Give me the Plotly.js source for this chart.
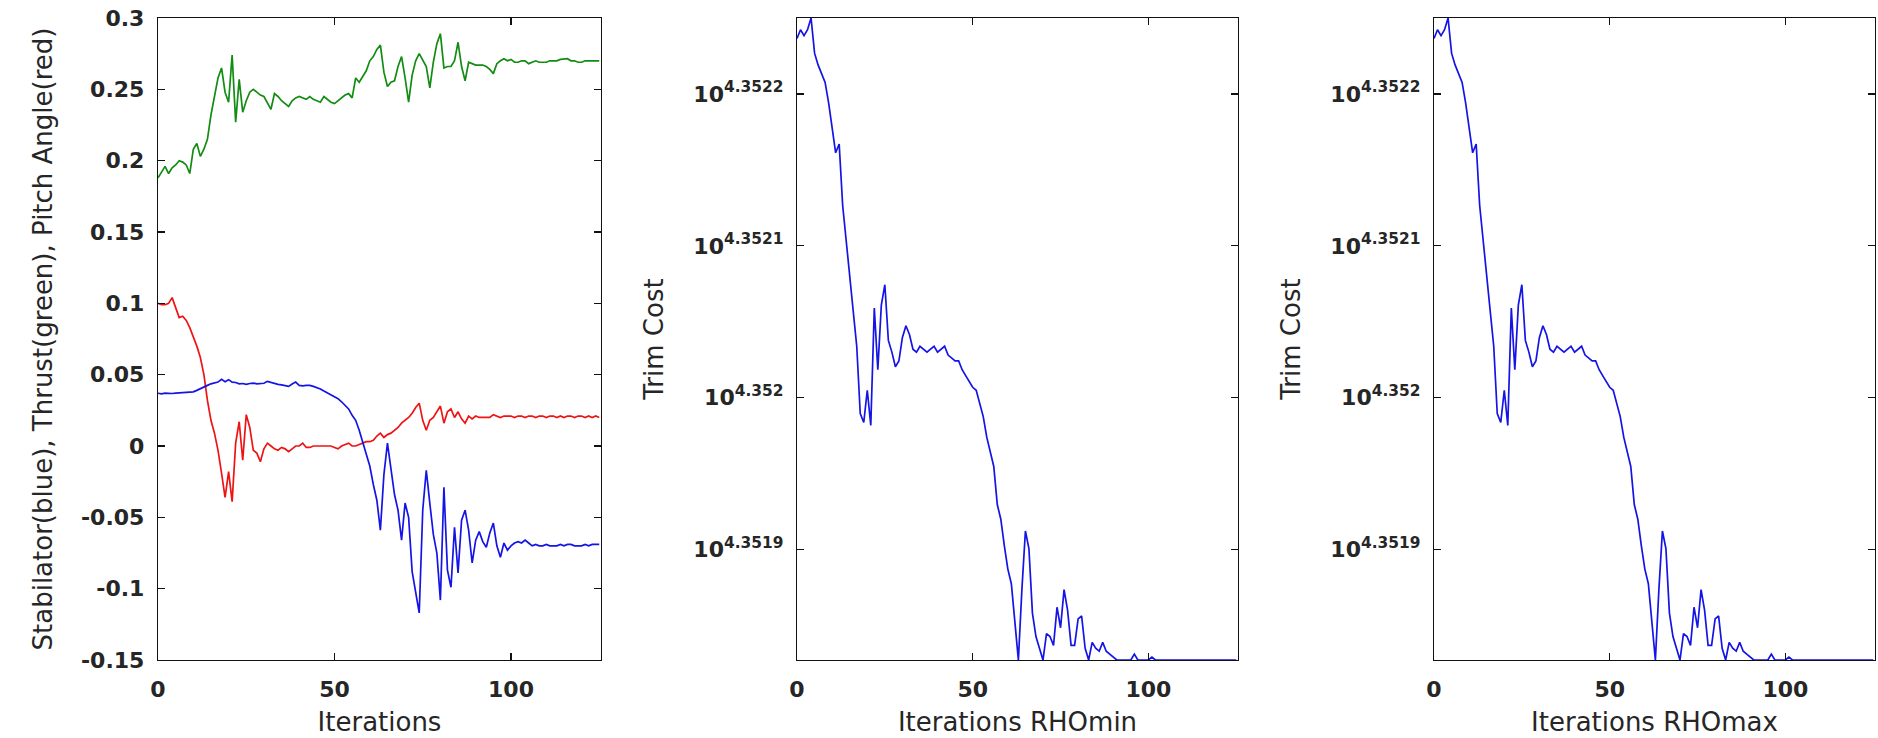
<!DOCTYPE html>
<html>
<head>
<meta charset="utf-8">
<script src="https://cdn.plot.ly/plotly-3.0.1.min.js"></script>
<style>
  html, body { margin: 0; padding: 0; background: #ffffff; }
  #chart { width: 1878px; height: 738px; }
</style>
</head>
<body>
<div id="chart"></div>
<script>
// ---------------- DATA ----------------
const iterations = Array.from({ length: 126 }, (_, i) => i);

const thrustGreen = [
  0.188,0.192,0.196,0.191,0.195,0.197,0.200,0.199,0.197,0.191,
  0.208,0.212,0.203,0.208,0.215,0.232,0.244,0.258,0.265,0.248,
  0.241,0.274,0.227,0.257,0.234,0.242,0.248,0.250,0.248,0.246,
  0.245,0.240,0.236,0.247,0.245,0.242,0.240,0.238,0.242,0.244,
  0.245,0.244,0.243,0.245,0.243,0.242,0.241,0.245,0.243,0.241,
  0.240,0.242,0.244,0.246,0.247,0.244,0.258,0.255,0.259,0.263,
  0.270,0.273,0.278,0.281,0.262,0.252,0.255,0.256,0.266,0.273,
  0.258,0.241,0.260,0.270,0.275,0.270,0.266,0.251,0.269,0.282,
  0.289,0.265,0.266,0.266,0.270,0.283,0.266,0.256,0.269,0.268,
  0.267,0.267,0.267,0.266,0.264,0.261,0.268,0.270,0.2715,0.270,
  0.271,0.269,0.269,0.270,0.270,0.268,0.269,0.270,0.269,0.269,
  0.269,0.270,0.270,0.270,0.271,0.271,0.2715,0.270,0.270,0.269,
  0.269,0.270,0.270,0.270,0.270,0.270
];

const pitchRed = [
  0.100,0.099,0.099,0.100,0.104,0.097,0.090,0.091,0.088,0.083,
  0.077,0.070,0.062,0.050,0.032,0.018,0.009,-0.003,-0.019,-0.036,
  -0.018,-0.039,0.002,0.017,-0.010,0.022,0.013,-0.003,-0.005,-0.011,
  -0.002,0.002,0.000,-0.002,-0.003,-0.001,-0.002,-0.004,-0.002,0.000,
  0.000,0.002,-0.001,-0.001,0.000,0.000,0.000,0.000,0.000,0.000,
  -0.001,-0.002,0.000,0.001,0.002,0.000,0.000,0.001,0.002,0.003,
  0.003,0.004,0.007,0.009,0.006,0.008,0.009,0.011,0.013,0.016,
  0.018,0.020,0.023,0.027,0.030,0.018,0.011,0.018,0.020,0.024,
  0.028,0.016,0.024,0.026,0.020,0.024,0.019,0.016,0.021,0.019,
  0.021,0.020,0.020,0.020,0.020,0.022,0.021,0.020,0.021,0.021,
  0.021,0.020,0.021,0.021,0.020,0.021,0.021,0.020,0.021,0.021,
  0.020,0.021,0.021,0.020,0.021,0.020,0.021,0.021,0.020,0.021,
  0.021,0.020,0.021,0.020,0.021,0.020
];

const stabilatorBlue = [
  0.037,0.0365,0.037,0.0368,0.0368,0.037,0.0372,0.037,0.0375,0.0378,
  0.038,0.039,0.040,0.041,0.0425,0.0436,0.044,0.0448,0.0467,0.045,
  0.0465,0.0448,0.0445,0.0436,0.0438,0.0432,0.0438,0.0441,0.0435,0.0436,
  0.044,0.0453,0.0445,0.0438,0.0432,0.0428,0.0422,0.0418,0.0435,0.0448,
  0.0425,0.0422,0.0425,0.0425,0.0418,0.041,0.040,0.0385,0.0372,0.036,
  0.0348,0.0332,0.031,0.0288,0.026,0.0215,0.018,0.011,0.003,-0.005,
  -0.014,-0.027,-0.038,-0.059,-0.020,0.002,-0.017,-0.034,-0.045,-0.066,
  -0.040,-0.050,-0.088,-0.103,-0.117,-0.045,-0.017,-0.040,-0.062,-0.075,
  -0.108,-0.029,-0.087,-0.099,-0.057,-0.089,-0.052,-0.045,-0.059,-0.082,
  -0.066,-0.060,-0.067,-0.071,-0.061,-0.054,-0.070,-0.078,-0.068,-0.073,
  -0.070,-0.068,-0.067,-0.068,-0.066,-0.068,-0.070,-0.069,-0.070,-0.070,
  -0.069,-0.070,-0.070,-0.070,-0.069,-0.070,-0.069,-0.069,-0.070,-0.070,
  -0.070,-0.069,-0.070,-0.069,-0.069,-0.069
];

const trimCostRhoMin = [
  22502.8,22503.1,22502.9,22503.1,22503.5,22502.3,22501.9,22501.6,22501.3,22500.6,
  22499.7,22498.9,22499.2,22497.1,22495.9,22494.6,22493.5,22492.3,22490.0,22489.7,
  22490.8,22489.6,22493.6,22491.5,22493.7,22494.4,22492.5,22492.1,22491.6,22491.8,
  22492.6,22493.0,22492.7,22492.2,22492.1,22492.3,22492.2,22492.1,22492.2,22492.3,
  22492.1,22492.2,22492.3,22492.0,22491.9,22491.8,22491.8,22491.5,22491.3,22491.1,
  22490.9,22490.8,22490.3,22489.9,22489.2,22488.7,22488.2,22486.9,22486.4,22485.5,
  22484.7,22484.2,22482.8,22481.6,22484.0,22486.0,22485.4,22483.2,22482.4,22482.0,
  22481.6,22482.5,22482.4,22482.1,22483.4,22482.7,22484.0,22483.3,22482.1,22482.1,
  22483.0,22483.1,22482.0,22481.6,22482.2,22482.0,22481.9,22482.2,22481.9,22481.8,
  22481.7,22481.6,22481.6,22481.6,22481.6,22481.6,22481.8,22481.6,22481.6,22481.6,
  22481.6,22481.7,22481.6,22481.6,22481.6,22481.6,22481.6,22481.6,22481.6,22481.6,
  22481.6,22481.6,22481.6,22481.6,22481.6,22481.6,22481.6,22481.6,22481.6,22481.6,
  22481.6,22481.6,22481.6,22481.6,22481.6,22481.6
];

const trimCostRhoMax = [
  22502.8,22503.1,22502.9,22503.1,22503.5,22502.3,22501.9,22501.6,22501.3,22500.6,
  22499.7,22498.9,22499.2,22497.1,22495.9,22494.6,22493.5,22492.3,22490.0,22489.7,
  22490.8,22489.6,22493.6,22491.5,22493.7,22494.4,22492.5,22492.1,22491.6,22491.8,
  22492.6,22493.0,22492.7,22492.2,22492.1,22492.3,22492.2,22492.1,22492.2,22492.3,
  22492.1,22492.2,22492.3,22492.0,22491.9,22491.8,22491.8,22491.5,22491.3,22491.1,
  22490.9,22490.8,22490.3,22489.9,22489.2,22488.7,22488.2,22486.9,22486.4,22485.5,
  22484.7,22484.2,22482.8,22481.6,22484.0,22486.0,22485.4,22483.2,22482.4,22482.0,
  22481.6,22482.5,22482.4,22482.1,22483.4,22482.7,22484.0,22483.3,22482.1,22482.1,
  22483.0,22483.1,22482.0,22481.6,22482.2,22482.0,22481.9,22482.2,22481.9,22481.8,
  22481.7,22481.6,22481.6,22481.6,22481.6,22481.6,22481.8,22481.6,22481.6,22481.6,
  22481.6,22481.7,22481.6,22481.6,22481.6,22481.6,22481.6,22481.6,22481.6,22481.6,
  22481.6,22481.6,22481.6,22481.6,22481.6,22481.6,22481.6,22481.6,22481.6,22481.6,
  22481.6,22481.6,22481.6,22481.6,22481.6,22481.6
];

const iterTickVals = [0, 50, 100];
const iterTickText = ['0', '50', '100'];
const controlTickVals = [-0.15, -0.1, -0.05, 0, 0.05, 0.1, 0.15, 0.2, 0.25, 0.3];
const controlTickText = ['-0.15', '-0.1', '-0.05', '0', '0.05', '0.1', '0.15', '0.2', '0.25', '0.3'];
const costTickExponents = ['4.3519', '4.352', '4.3521', '4.3522'];

// ---------------- STYLE ----------------
const W = 1878, H = 738;
const tickFont = { family: 'DejaVu Sans', size: 22, color: '#262626', weight: 'bold' };
const titleFont = { family: 'DejaVu Sans', size: 26, color: '#262626' };

function xAxis(domain, anchor, title) {
  return {
    domain: domain, anchor: anchor,
    range: [0, 125.5],
    tickmode: 'array', tickvals: iterTickVals, ticktext: iterTickText,
    ticks: 'inside', ticklen: 7, tickwidth: 1.2, tickcolor: '#111',
    mirror: 'ticks', showline: true, linecolor: '#111', linewidth: 1.2,
    showgrid: false, zeroline: false,
    tickfont: tickFont, ticklabelstandoff: 9,
    title: { text: title, font: titleFont, standoff: 12 }
  };
}

const costMin = Math.min(...trimCostRhoMin);
const costMax = Math.max(...trimCostRhoMin);
const costTickVals = costTickExponents.map(e => Math.pow(10, parseFloat(e)));
const costTickText = costTickExponents.map(e => '10<sup>' + e + '</sup>');

function costAxis(domain, anchor) {
  return {
    domain: domain, anchor: anchor, type: 'log',
    range: [Math.log10(costMin), Math.log10(costMax)],
    tickmode: 'array', tickvals: costTickVals, ticktext: costTickText,
    ticks: 'inside', ticklen: 7, tickwidth: 1.2, tickcolor: '#111',
    mirror: 'ticks', showline: true, linecolor: '#111', linewidth: 1.2,
    showgrid: false, zeroline: false,
    tickfont: tickFont, ticklabelstandoff: 8,
    title: { text: 'Trim Cost', font: titleFont, standoff: 22 }
  };
}

const yTop = 1 - 18 / H, yBot = 1 - 660 / H;

const traces = [
  { x: iterations, y: thrustGreen, xaxis: 'x', yaxis: 'y', type: 'scatter', mode: 'lines',
    line: { color: '#128c12', width: 1.7 } },
  { x: iterations, y: pitchRed, xaxis: 'x', yaxis: 'y', type: 'scatter', mode: 'lines',
    line: { color: '#ee1414', width: 1.7 } },
  { x: iterations, y: stabilatorBlue, xaxis: 'x', yaxis: 'y', type: 'scatter', mode: 'lines',
    line: { color: '#1414e6', width: 1.7 } },
  { x: iterations, y: trimCostRhoMin, xaxis: 'x2', yaxis: 'y2', type: 'scatter', mode: 'lines',
    line: { color: '#1414e6', width: 1.7 } },
  { x: iterations, y: trimCostRhoMax, xaxis: 'x3', yaxis: 'y3', type: 'scatter', mode: 'lines',
    line: { color: '#1414e6', width: 1.7 } }
];

const layout = {
  width: W, height: H,
  margin: { l: 0, r: 0, t: 0, b: 0 },
  paper_bgcolor: '#ffffff', plot_bgcolor: '#ffffff',
  showlegend: false,
  font: { family: 'DejaVu Sans', size: 22, color: '#262626' },
  xaxis: xAxis([158 / W, 601 / W], 'y', 'Iterations'),
  yaxis: {
    domain: [yBot, yTop], anchor: 'x',
    range: [-0.15, 0.3],
    tickmode: 'array', tickvals: controlTickVals, ticktext: controlTickText,
    ticks: 'inside', ticklen: 7, tickwidth: 1.2, tickcolor: '#111',
    mirror: 'ticks', showline: true, linecolor: '#111', linewidth: 1.2,
    showgrid: false, zeroline: false,
    tickfont: tickFont, ticklabelstandoff: 8,
    title: { text: 'Stabilator(blue), Thrust(green), Pitch Angle(red)', font: titleFont, standoff: 20 }
  },
  xaxis2: xAxis([797 / W, 1238 / W], 'y2', 'Iterations RHOmin'),
  yaxis2: costAxis([yBot, yTop], 'x2'),
  xaxis3: xAxis([1434 / W, 1875 / W], 'y3', 'Iterations RHOmax'),
  yaxis3: costAxis([yBot, yTop], 'x3')
};

Plotly.newPlot('chart', traces, layout, { staticPlot: true, displayModeBar: false });
</script>
</body>
</html>
